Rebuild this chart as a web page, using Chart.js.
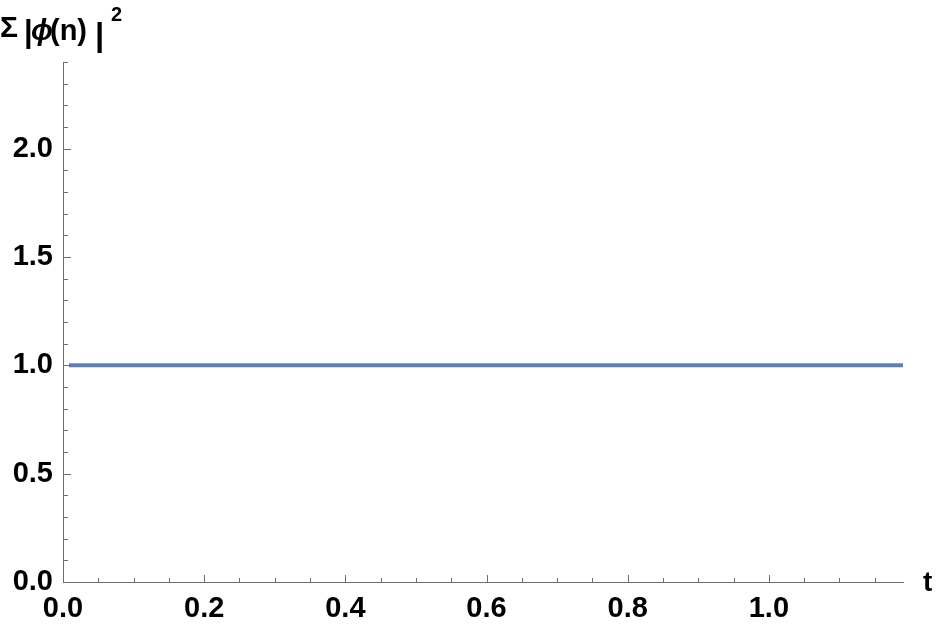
<!DOCTYPE html>
<html>
<head>
<meta charset="utf-8">
<script src="https://cdn.jsdelivr.net/npm/chart.js@4"></script>
<style>
  html, body { margin: 0; padding: 0; background: #fff; }
  #wrap { width: 936px; height: 630px; position: relative; }
</style>
</head>
<body>
<div id="wrap"><canvas id="chart"></canvas></div>
<script>
// datos
const tValores = [0.0085, 0.70, 0.905, 1.13, 1.19];
const sumaValores = [1.0, 1.0, 1.0, 1.0, 1.0];
const xTicks = [0.0, 0.2, 0.4, 0.6, 0.8, 1.0];
const yTicks = [0.0, 0.5, 1.0, 1.5, 2.0];
const xMenores = [0.05, 0.1, 0.15, 0.25, 0.3, 0.35, 0.45, 0.5, 0.55, 0.65, 0.7, 0.75, 0.85, 0.9, 0.95, 1.05, 1.1, 1.15];
const yMenores = [0.1, 0.2, 0.3, 0.4, 0.6, 0.7, 0.8, 0.9, 1.1, 1.2, 1.3, 1.4, 1.6, 1.7, 1.8, 1.9, 2.1, 2.2, 2.3, 2.4];

const colorEje = "#6e6e6e";
const fuente = "'Liberation Sans', Arial, sans-serif";

const canvas = document.getElementById("chart").getContext("2d");

const marcas = {
  id: "marcas",
  afterDraw(chart) {
    const ctx = chart.ctx;
    const xs = chart.scales.x;
    const ys = chart.scales.y;
    const area = chart.chartArea;
    ctx.save();
    ctx.strokeStyle = colorEje;
    ctx.lineWidth = 1;
    ctx.beginPath();
    xTicks.forEach(v => {
      const px = Math.round(xs.getPixelForValue(v)) + 0.5;
      ctx.moveTo(px, area.bottom); ctx.lineTo(px, area.bottom - 7);
    });
    xMenores.forEach(v => {
      const px = Math.round(xs.getPixelForValue(v)) + 0.5;
      ctx.moveTo(px, area.bottom); ctx.lineTo(px, area.bottom - 4);
    });
    yTicks.forEach(v => {
      const py = Math.round(ys.getPixelForValue(v)) + 0.5;
      ctx.moveTo(area.left, py); ctx.lineTo(area.left + 8, py);
    });
    yMenores.forEach(v => {
      const py = Math.round(ys.getPixelForValue(v)) + 0.5;
      ctx.moveTo(area.left, py); ctx.lineTo(area.left + 5, py);
    });
    ctx.stroke();

    // etiquetas de los ejes
    ctx.fillStyle = "#000";
    ctx.textBaseline = "alphabetic";
    ctx.textAlign = "left";
    ctx.font = "bold 28px " + fuente;
    ctx.fillText("t", area.right + 20, area.bottom + 9);

    // titulo del eje y: Σ |ϕ(n)|²
    ctx.font = "bold 30px " + fuente;
    ctx.fillText("Σ", 0, 37);
    ctx.font = "bold 31px " + fuente;
    ctx.fillText("|", 24, 42);
    ctx.font = "italic bold 29px " + fuente;
    ctx.fillText("ϕ", 31, 40);
    ctx.font = "bold 29px " + fuente;
    ctx.fillText("(n)", 50, 40);
    ctx.font = "bold 33px " + fuente;
    ctx.fillText("|", 95, 46);
    ctx.font = "bold 20px " + fuente;
    ctx.fillText("2", 111, 21);
    ctx.restore();
  }
};

const data = {
  datasets: [{
    label: "suma",
    data: tValores.map((t, i) => ({ x: t, y: sumaValores[i] })),
    borderColor: "#5e81b5",
    borderWidth: 4,
    pointRadius: 0,
    tension: 0
  }]
};

const config = {
  type: "line",
  data: data,
  options: {
    responsive: false,
    animation: false,
    layout: { padding: { top: 62, right: 33, left: 0, bottom: 0 } },
    plugins: { legend: { display: false }, tooltip: { enabled: false } },
    scales: {
      x: {
        type: "linear",
        min: 0,
        max: 1.19,
        grid: { display: false, drawTicks: false },
        border: { display: true, color: colorEje, width: 1 },
        afterBuildTicks: s => { s.ticks = xTicks.map(v => ({ value: v })); },
        afterFit: s => { s.height = 48; },
        ticks: {
          padding: 10,
          color: "#000",
          font: { family: fuente, size: 29, weight: "bold" },
          callback: v => v.toFixed(1)
        }
      },
      y: {
        type: "linear",
        min: 0,
        max: 2.4,
        grid: { display: false, drawTicks: false },
        border: { display: true, color: colorEje, width: 1 },
        afterBuildTicks: s => { s.ticks = yTicks.map(v => ({ value: v })); },
        afterFit: s => { s.width = 63; },
        ticks: {
          padding: 10,
          color: "#000",
          font: { family: fuente, size: 29, weight: "bold" },
          callback: v => v.toFixed(1)
        }
      }
    }
  },
  plugins: [marcas]
};

const el = document.getElementById("chart");
el.width = 936;
el.height = 630;
const chart = new Chart(canvas, config);
</script>
</body>
</html>
